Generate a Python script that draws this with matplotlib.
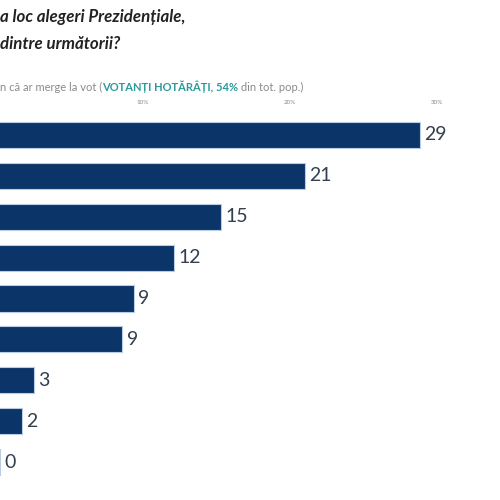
import matplotlib
matplotlib.use("Agg")
import matplotlib.pyplot as plt

# Data read from the (cropped) reference
values = [28.8, 21.0, 15.3, 12.1, 9.4, 8.6, 2.6, 1.8, 0.3]
labels = ["29", "21", "15", "12", "9", "9", "3", "2", "0"]
tick_vals = [10, 20, 30]
tick_labels = ["10%", "20%", "30%"]

title_lines = ["a loc alegeri Prezidențiale,", "dintre următorii?"]
sub_texts = ["n că ar merge la vot (", "VOTANȚI HOTĂRÂȚI, 54%", " din tot. pop.)"]
sub_colors = ["#8a8a8a", "#2a9a9c", "#8a8a8a"]
sub_weights = ["normal", "bold", "normal"]

plt.rcParams['font.family'] = ['Lato', 'DejaVu Sans']

fig = plt.figure(figsize=(5, 5), dpi=100)
fig.patch.set_facecolor("white")

ax = fig.add_axes([-0.008, 0.035, 1.0, 0.736])
pos = list(range(len(values)))
ax.barh(pos, values, height=0.64, color="#0b3468", edgecolor="#b8cde4", linewidth=0.8)
ax.set_xlim(0, 34)
ax.set_ylim(len(values) - 0.5, -0.5)
for p, v, lab in zip(pos, values, labels):
    ax.annotate(lab, xy=(v, p), xytext=(3, 0), textcoords="offset points",
                va="center", ha="left", fontsize=14, color="#333f4f")
for s in ax.spines.values():
    s.set_visible(False)
ax.set_yticks([])
ax.set_xticks(tick_vals)
ax.set_xticklabels(tick_labels, fontsize=4.5, color="#8a8a8a")
ax.xaxis.set_ticks_position("top")
ax.tick_params(axis="x", length=0, pad=7)

# Title
fig.text(0.0, 1 - 17 / 500, title_lines[0], fontsize=12.2, fontweight="bold",
         fontstyle="italic", color="#222222", ha="left", va="center")
fig.text(0.0, 1 - 44 / 500, title_lines[1], fontsize=12.2, fontweight="bold",
         fontstyle="italic", color="#222222", ha="left", va="center")

# Subtitle with mixed colours
t = fig.text(0.0, 1 - 87 / 500, sub_texts[0], fontsize=8, color=sub_colors[0],
             fontweight=sub_weights[0], ha="left", va="center")
for s, c, w in zip(sub_texts[1:], sub_colors[1:], sub_weights[1:]):
    t = fig.add_artist(plt.Annotation(s, xy=(1, 0), xycoords=t, va="bottom", ha="left",
                                      fontsize=8, color=c, fontweight=w))

fig.savefig("out.png", dpi=100)
